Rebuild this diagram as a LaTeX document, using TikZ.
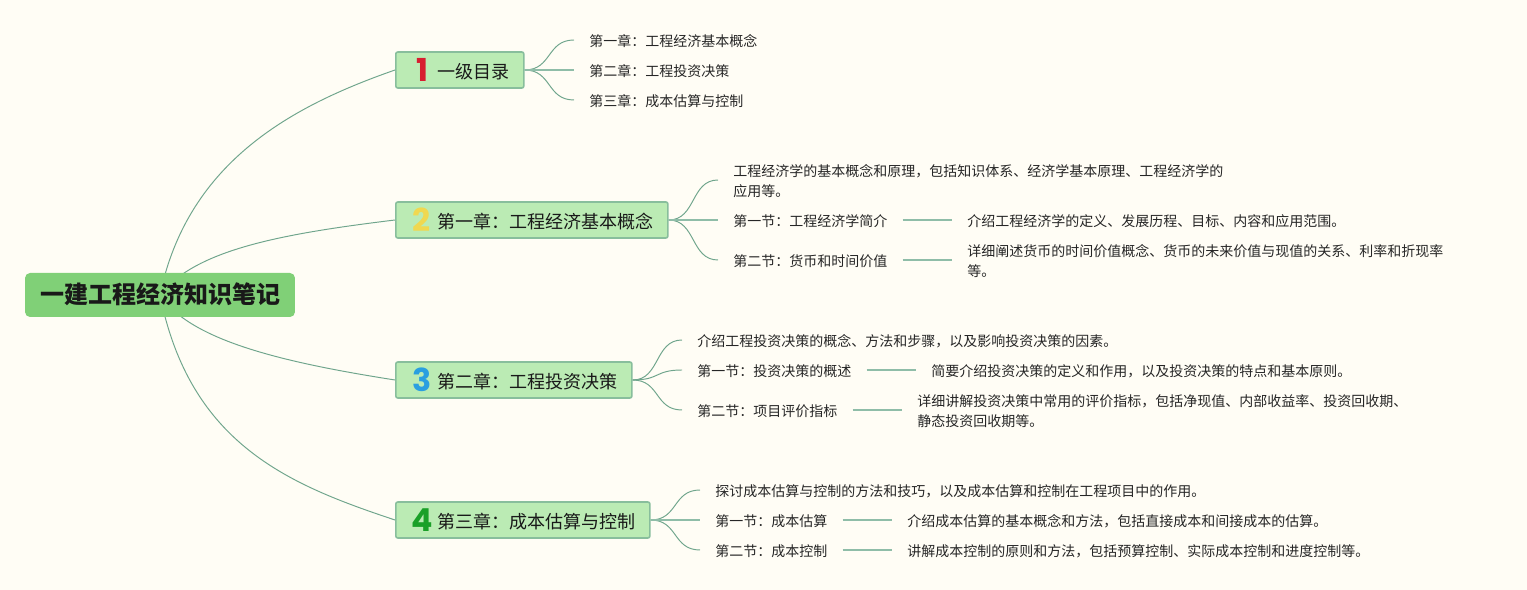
\documentclass[tikz,border=0pt]{standalone}
\usepackage{fontspec}
\usepackage{xcolor}
\setmainfont{Noto Sans CJK SC}
\newfontfamily\numfont{Poppins}
\usetikzlibrary{backgrounds}

\definecolor{paper}{HTML}{FFFDF5}
\definecolor{rootfill}{HTML}{80D077}
\definecolor{chapfill}{HTML}{BBEBB4}
\definecolor{chapedge}{HTML}{88BE9C}
\definecolor{linkcol}{HTML}{6FA58C}
\definecolor{flatcol}{HTML}{8FBDA8}
\definecolor{numred}{HTML}{D81E30}
\definecolor{numyellow}{HTML}{F0D850}
\definecolor{numblue}{HTML}{2A9FE0}
\definecolor{numgreen}{HTML}{1AA028}

\tikzset{
  rootbox/.style={fill=rootfill, rounded corners=0.1cm, minimum width=5.4cm, minimum height=0.88cm, inner sep=0,
    text height=1.03em, text depth=0.1em,
    font=\fontsize{13.66pt}{16pt}\selectfont\bfseries, text=black!90},
  chapbox/.style={draw=chapedge, line width=0.9pt, fill=chapfill, rounded corners=0.04cm, anchor=west, minimum height=0.72cm,
    inner xsep=0.28cm, inner ysep=0, text height=1.03em, text depth=0.1em,
    font=\fontsize{10.25pt}{12pt}\selectfont, text=black!90},
  leaftext/.style={anchor=west, inner xsep=0.3cm, inner ysep=0, yshift=-0.03cm, align=left,
    font=\fontsize{7.97pt}{11.38pt}\selectfont, text=black!85},
  numicon/.style={inner sep=0, font=\fontsize{18pt}{20pt}\selectfont\numfont\bfseries},
  linkline/.style={draw=linkcol, line width=0.55pt},
  flatline/.style={draw=flatcol, line width=0.85pt}
}

\begin{document}
\begin{tikzpicture}[x=0.02cm,y=-0.02cm]

\useasboundingbox (0,0) rectangle (1527,590);

\node[rootbox] (root) at (160,295) {一建工程经济知识笔记};

\node[chapbox] (ch0) at (395,70) {\hspace*{0.56cm}一级目录};
\node[chapbox] (ch1) at (395,220) {\hspace*{0.56cm}第一章：工程经济基本概念};
\node[chapbox] (ch2) at (395,380) {\hspace*{0.56cm}第二章：工程投资决策};
\node[chapbox] (ch3) at (395,520) {\hspace*{0.56cm}第三章：成本估算与控制};

\node[numicon,color=numred] (num0) at (422,70) {1};
\node[numicon,color=numyellow] (num1) at (422,220) {2};
\node[numicon,color=numblue] (num2) at (422,380) {3};
\node[numicon,color=numgreen] (num3) at (422,520) {4};

\node[leaftext] (a1) at (574,40) {第一章：工程经济基本概念};
\node[leaftext] (a2) at (574,70) {第二章：工程投资决策};
\node[leaftext] (a3) at (574,100) {第三章：成本估算与控制};

\node[leaftext] (b1) at (718,180) {工程经济学的基本概念和原理，包括知识体系、经济学基本原理、工程经济学的\\应用等。};
\node[leaftext] (b2) at (718,220) {第一节：工程经济学简介};
\node[leaftext] (b3) at (718,260) {第二节：货币和时间价值};
\node[leaftext] (b2d) at (952,220) {介绍工程经济学的定义、发展历程、目标、内容和应用范围。};
\node[leaftext] (b3d) at (952,260) {详细阐述货币的时间价值概念、货币的未来价值与现值的关系、利率和折现率\\等。};

\node[leaftext] (c1) at (682,340) {介绍工程投资决策的概念、方法和步骤，以及影响投资决策的因素。};
\node[leaftext] (c2) at (682,370) {第一节：投资决策的概述};
\node[leaftext] (c3) at (682,410) {第二节：项目评价指标};
\node[leaftext] (c2d) at (916,370) {简要介绍投资决策的定义和作用，以及投资决策的特点和基本原则。};
\node[leaftext] (c3d) at (902,410) {详细讲解投资决策中常用的评价指标，包括净现值、内部收益率、投资回收期、\\静态投资回收期等。};

\node[leaftext] (d1) at (700,490) {探讨成本估算与控制的方法和技巧，以及成本估算和控制在工程项目中的作用。};
\node[leaftext] (d2) at (700,520) {第一节：成本估算};
\node[leaftext] (d3) at (700,550) {第二节：成本控制};
\node[leaftext] (d2d) at (892,520) {介绍成本估算的基本概念和方法，包括直接成本和间接成本的估算。};
\node[leaftext] (d3d) at (892,550) {讲解成本控制的原则和方法，包括预算控制、实际成本控制和进度控制等。};

\begin{pgfonlayer}{background}
\fill[paper] (0,0) rectangle (1527,590);
\draw[linkline] (root.center) .. controls (188,160) and (295,105) .. (ch0.west);
\draw[linkline] (root.center) .. controls (195,250) and (280,234) .. (ch1.west);
\draw[linkline] (root.center) .. controls (190,340) and (280,362) .. (ch2.west);
\draw[linkline] (root.center) .. controls (190,445) and (290,485) .. (ch3.west);
\end{pgfonlayer}

% chapter to leaf
\foreach \a/\b in {ch0/a1,ch0/a3,ch1/b1,ch1/b3,ch2/c1,ch2/c2,ch2/c3,ch3/d1,ch3/d3}{
	\draw[linkline] (\a.east) .. controls ([xshift=0.55cm]\a.east) and ([xshift=-0.55cm,yshift=0.03cm]\b.west) .. ([yshift=0.03cm]\b.west);
}
\foreach \a/\b in {ch0/a2,ch1/b2,ch3/d2}{
	\draw[flatline] (\a.east)--([yshift=0.03cm]\b.west);
}

% section to description
\foreach \a/\b in {b2/b2d,b3/b3d,c2/c2d,c3/c3d,d2/d2d,d3/d3d}{
	\draw[flatline] ([yshift=0.03cm]\a.east)--([yshift=0.03cm]\b.west);
}

\end{tikzpicture}
\end{document}
